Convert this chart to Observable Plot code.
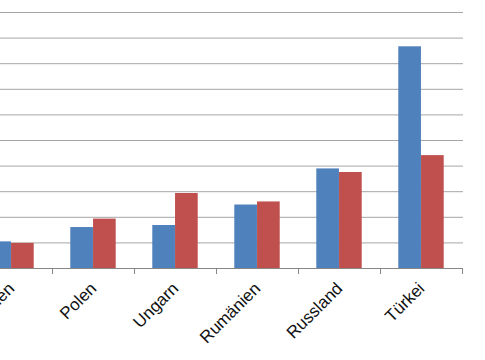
<!DOCTYPE html>
<html>
<head>
<meta charset="utf-8">
<script src="https://cdn.jsdelivr.net/npm/d3@7"></script>
<script src="https://cdn.jsdelivr.net/npm/@observablehq/plot@0.6"></script>
<style>
  html, body { margin: 0; padding: 0; background: #fff; overflow: hidden; }
  #chart svg { overflow: hidden; }
</style>
</head>
<body>
<div id="chart"></div>
<script>
const categories = ["Tschechien", "Polen", "Ungarn", "Rumänien", "Russland", "Türkei"];
const seriesA = [1.04, 1.60, 1.68, 2.48, 3.89, 8.66];
const seriesB = [0.98, 1.93, 2.93, 2.60, 3.75, 4.41];
const yTicks = [0, 1, 2, 3, 4, 5, 6, 7, 8, 9, 10];

const dataA = categories.map((c, i) => ({cat: c, v: seriesA[i]}));
const dataB = categories.map((c, i) => ({cat: c, v: seriesB[i]}));

const band = (462.7 + 29.8) / categories.length;
const barW = 22.75;
const outer = (band - 2 * barW) / 2;

const chart = Plot.plot({
  width: 485,
  height: 360,
  marginTop: 12,
  marginBottom: 92,
  marginLeft: 0,
  marginRight: 22,
  style: {fontFamily: "Liberation Sans, Arial, sans-serif", background: "#fff"},
  x: {domain: categories, range: [-29.8, 462.7], padding: 0, label: null},
  y: {domain: [0, 10], axis: null, label: null},
  marks: [
    Plot.gridY(yTicks, {stroke: "#a6a6a6", strokeOpacity: 1}),
    Plot.barY(dataA, {x: "cat", y: "v", fill: "#4F81BD", insetLeft: outer, insetRight: band - outer - barW}),
    Plot.barY(dataB, {x: "cat", y: "v", fill: "#C0504D", insetLeft: outer + barW, insetRight: outer}),
    Plot.ruleY([0], {stroke: "#868686"}),
    Plot.axisX({tickSize: 6, dx: band / 2, text: null, stroke: "#868686", label: null}),
    Plot.text(categories, {x: d => d, frameAnchor: "bottom", rotate: -45, textAnchor: "end", lineAnchor: "bottom", fontSize: 17, fill: "#111", dx: 4, dy: 21})
  ]
});
document.getElementById("chart").appendChild(chart);
</script>
</body>
</html>
